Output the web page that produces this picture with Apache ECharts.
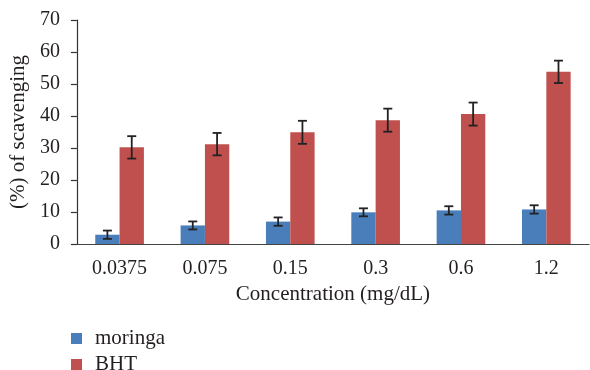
<!DOCTYPE html>
<html>
<head>
<meta charset="utf-8">
<script src="https://cdn.jsdelivr.net/npm/echarts@6/dist/echarts.min.js"></script>
<style>html,body{margin:0;padding:0;background:#fff}#c{width:590px;height:370px}</style>
</head>
<body>
<div id="c"></div>
<script>
var categories = ['0.0375', '0.075', '0.15', '0.3', '0.6', '1.2'];
var moringa = [2.9, 5.8, 7.0, 9.9, 10.5, 10.8];
var moringaErr = [1.3, 1.25, 1.3, 1.25, 1.3, 1.3];
var bht = [30.2, 31.2, 34.9, 38.7, 40.6, 53.8];
var bhtErr = [3.5, 3.5, 3.6, 3.6, 3.6, 3.5];
var yTicks = [0, 10, 20, 30, 40, 50, 60, 70];

var FONT = 'Liberation Serif';
var TXT = '#231f20';
var CAT_GAP = 0.43;

function errSeries(vals, errs, side) {
  var data = vals.map(function (v, i) { return [i, v, errs[i]]; });
  return {
    type: 'custom',
    silent: true,
    z: 10,
    data: data,
    encode: { x: 0, y: 1 },
    renderItem: function (params, api) {
      var i = api.value(0), v = api.value(1), e = api.value(2);
      var band = api.size([1, 0])[0];
      var off = side * band * (1 - CAT_GAP) / 4;
      var hi = api.coord([i, v + e]);
      var lo = api.coord([i, v - e]);
      var x = hi[0] + off;
      var cap = 4.5;
      var st = { stroke: '#222', lineWidth: 1.8 };
      return {
        type: 'group',
        children: [
          { type: 'line', shape: { x1: x, y1: hi[1], x2: x, y2: lo[1] }, style: st },
          { type: 'line', shape: { x1: x - cap, y1: hi[1], x2: x + cap, y2: hi[1] }, style: st },
          { type: 'line', shape: { x1: x - cap, y1: lo[1], x2: x + cap, y2: lo[1] }, style: st }
        ]
      };
    }
  };
}

var chart = echarts.init(document.getElementById('c'), null, { renderer: 'canvas' });
chart.setOption({
  animation: false,
  textStyle: { fontFamily: FONT, color: TXT },
  grid: { left: 71, right: 1, top: 20, bottom: 126, containLabel: false },
  legend: {
    orient: 'vertical',
    left: 71,
    top: 328,
    padding: 0,
    height: 50,
    itemWidth: 11,
    itemHeight: 11,
    itemGap: 5,
    icon: 'rect',
    textStyle: { fontFamily: FONT, fontSize: 21, color: TXT, padding: [0, 0, 0, 8] },
    data: ['moringa', 'BHT']
  },
  xAxis: {
    type: 'category',
    data: categories,
    name: 'Concentration (mg/dL)',
    nameLocation: 'middle',
    nameGap: 40,
    nameTextStyle: { fontFamily: FONT, fontSize: 21, color: TXT },
    axisLine: { lineStyle: { color: '#444', width: 1.2 } },
    axisTick: { length: 6, lineStyle: { color: '#333', width: 1.2 } },
    axisLabel: { fontFamily: FONT, fontSize: 20, color: TXT, margin: 15 }
  },
  yAxis: {
    type: 'value',
    min: yTicks[0],
    max: yTicks[yTicks.length - 1],
    interval: 10,
    name: '(%) of scavenging',
    nameLocation: 'middle',
    nameGap: 44,
    nameTextStyle: { fontFamily: FONT, fontSize: 21, color: TXT },
    axisLine: { show: true, lineStyle: { color: '#333', width: 1.2 } },
    axisTick: { show: true, length: 6, lineStyle: { color: '#333', width: 1.2 } },
    splitLine: { show: false },
    axisLabel: { fontFamily: FONT, fontSize: 20, color: TXT, margin: 17 }
  },
  series: [
    { name: 'moringa', type: 'bar', data: moringa, barGap: '0%', barCategoryGap: (CAT_GAP * 100) + '%', itemStyle: { color: '#4a7ebb' } },
    { name: 'BHT', type: 'bar', data: bht, barGap: '0%', barCategoryGap: (CAT_GAP * 100) + '%', itemStyle: { color: '#c0504d' } },
    errSeries(moringa, moringaErr, -1),
    errSeries(bht, bhtErr, 1)
  ]
});
</script>
</body>
</html>
